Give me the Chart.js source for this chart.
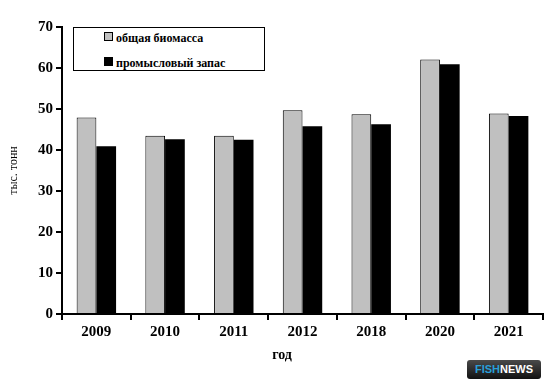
<!DOCTYPE html>
<html>
<head>
<meta charset="utf-8">
<script src="https://cdn.jsdelivr.net/npm/chart.js@4"></script>
<style>
  html, body { margin: 0; padding: 0; background: #fff; }
  #wrap { position: relative; width: 551px; height: 389px; }
  #legend {
    position: absolute; left: 73px; top: 27px; width: 190px; height: 42px;
    border: 1px solid #000; background: #fff;
  }
  #legend div {
    position: absolute; left: 30px; white-space: nowrap; line-height: 14px;
    font-family: "Liberation Serif", "Times New Roman", serif; font-weight: bold; font-size: 12px; color: #000;
  }
  #legend span { display: inline-block; width: 7px; height: 7px; border: 1px solid #000; margin-right: 3px; vertical-align: 1px; }
  #xtitle { position: absolute; left: 262px; top: 347px; width: 40px; text-align: center;
    font-family: "Liberation Serif", serif; font-weight: bold; font-size: 14px; }
  #badge {
    position: absolute; left: 467px; top: 360px; width: 74px; height: 19px; border-radius: 3px;
    background: linear-gradient(#4a4a4a, #111); text-align: center;
    font: bold 11px "Liberation Sans", Arial, sans-serif; line-height: 19px; color: #fff;
  }
  #badge b { color: #2a9fd8; }
</style>
</head>
<body>
<div id="wrap">
  <canvas id="myChart" width="551" height="389"></canvas>
  <div id="legend"></div>
  <div id="xtitle">год</div>
  <div id="badge"><b>FISH</b>NEWS</div>
</div>
<script>
// categories and values
var years = ["2009", "2010", "2011", "2012", "2018", "2020", "2021"];
var biomass = [47.9, 43.5, 43.5, 49.7, 48.7, 62.1, 48.9];
var stock = [40.9, 42.6, 42.5, 45.8, 46.3, 60.9, 48.3];
var seriesNames = ["общая биомасса", "промысловый запас"];
var yTicks = [0, 10, 20, 30, 40, 50, 60, 70];

var ctx = document.getElementById('myChart').getContext('2d');
var chart = new Chart(ctx, {
  type: 'bar',
  data: {
    labels: years,
    datasets: [{
      label: seriesNames[0],
      data: biomass,
      backgroundColor: '#c0c0c0',
      borderColor: '#000',
      borderWidth: 1
    }, {
      label: seriesNames[1],
      data: stock,
      backgroundColor: '#000',
      borderColor: '#000',
      borderWidth: 0
    }]
  },
  options: {
    responsive: false,
    animation: false,
    layout: { padding: { left: 3, top: 27, right: 8, bottom: 0 } },
    categoryPercentage: 0.574,
    barPercentage: 1,
    plugins: { legend: { display: false }, tooltip: { enabled: false } },
    scales: {
      x: {
        grid: { drawOnChartArea: false, drawTicks: true, tickLength: 6, color: '#000', lineWidth: 2, offset: true },
        border: { display: true, color: '#000', width: 2 },
        ticks: { color: '#000', padding: 3, font: { family: 'Liberation Serif', size: 15, weight: 'bold' } },
        afterFit: function(scale) { scale.height = 75; }
      },
      y: {
        min: 0,
        max: yTicks[yTicks.length - 1],
        afterBuildTicks: function(scale) { scale.ticks = yTicks.map(function(v) { return { value: v }; }); },
        grid: { drawOnChartArea: false, drawTicks: true, tickLength: 6, color: '#000', lineWidth: 2 },
        border: { display: true, color: '#000', width: 2 },
        ticks: { color: '#000', padding: 3, font: { family: 'Liberation Serif', size: 15, weight: 'bold' } },
        title: { display: true, text: 'тыс. тонн', color: '#000', padding: 4, font: { family: 'Liberation Serif', size: 12 } },
        afterFit: function(scale) { scale.width = 59; }
      }
    }
  }
});

// legend box inside the plot
var legend = document.getElementById('legend');
chart.data.datasets.forEach(function(ds, i) {
  var row = document.createElement('div');
  row.style.top = (i === 0 ? 3 : 28) + 'px';
  row.innerHTML = "<span style='background:" + ds.backgroundColor + "'></span>" + ds.label;
  legend.appendChild(row);
});
</script>
</body>
</html>
